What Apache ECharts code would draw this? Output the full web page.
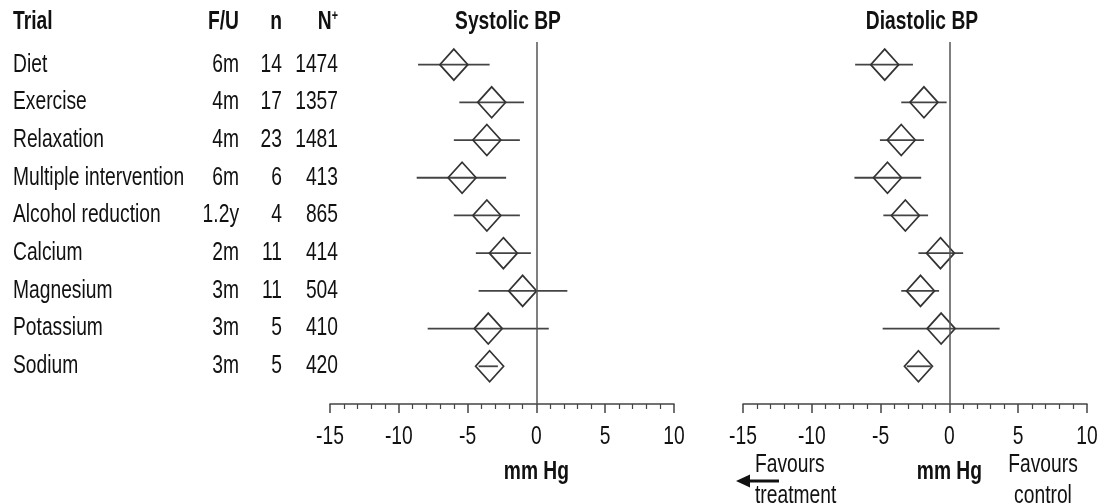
<!DOCTYPE html>
<html>
<head>
<meta charset="utf-8">
<script src="https://cdn.jsdelivr.net/npm/echarts@6/dist/echarts.min.js"></script>
<style>
  html, body { margin: 0; padding: 0; background: #fff; }
  #chart { width: 1104px; height: 504px; }
</style>
</head>
<body>
<div id="chart"></div>
<script>
// table columns
var trials = ['Diet', 'Exercise', 'Relaxation', 'Multiple intervention', 'Alcohol reduction',
  'Calcium', 'Magnesium', 'Potassium', 'Sodium'];
var followUp = ['6m', '4m', '4m', '6m', '1.2y', '2m', '3m', '3m', '3m'];
var nTrials = [14, 17, 23, 6, 4, 11, 11, 5, 5];
var nPatients = [1474, 1357, 1481, 413, 865, 414, 504, 410, 420];

// systolic BP change (mm Hg) with 95% CI
var sysEst = [-6.0, -3.25, -3.6, -5.4, -3.6, -2.4, -1.0, -3.5, -3.4];
var sysLo = [-8.6, -5.6, -6.0, -8.7, -6.0, -4.4, -4.2, -7.9, -4.2];
var sysHi = [-3.4, -0.9, -1.2, -2.2, -1.2, -0.4, 2.25, 0.9, -2.8];

// diastolic BP change (mm Hg) with 95% CI
var diaEst = [-4.7, -1.85, -3.5, -4.5, -3.2, -0.65, -2.1, -0.6, -2.25];
var diaLo = [-6.85, -3.5, -5.05, -6.9, -4.8, -2.25, -3.5, -4.85, -3.1];
var diaHi = [-2.65, -0.2, -1.85, -2.05, -1.55, 1.0, -0.75, 3.65, -1.35];

var xTicks = [-15, -10, -5, 0, 5, 10];

// no narrow font installed: Liberation Sans squeezed sideways looks like Arial Narrow
var FONT = '"Liberation Sans", Arial, sans-serif';
var NARROW = 0.77;
var TXT = '#111';

function rows(est, lo, hi) {
  return est.map(function (v, i) { return [v, i + 1, lo[i], hi[i]]; });
}

function renderForest(params, api) {
  var y = api.value(1);
  var c = api.coord([api.value(0), y]);
  var lo = api.coord([api.value(2), y]);
  var hi = api.coord([api.value(3), y]);
  var w = 14, h = 15.5;
  return {
    type: 'group',
    children: [
      {
        type: 'line',
        shape: { x1: lo[0], y1: c[1], x2: hi[0], y2: c[1] },
        style: { stroke: '#444', lineWidth: 1.8 }
      },
      {
        type: 'polygon',
        shape: { points: [[c[0], c[1] - h], [c[0] + w, c[1]], [c[0], c[1] + h], [c[0] - w, c[1]]] },
        style: { fill: 'none', stroke: '#333', lineWidth: 1.7 }
      }
    ]
  };
}

function xAxisCfg(idx) {
  return {
    gridIndex: idx,
    type: 'value',
    min: -15,
    max: 10,
    interval: 5,
    axisLine: { show: true, onZero: false, lineStyle: { color: '#444', width: 1.5 } },
    axisTick: { show: true, length: 9, lineStyle: { color: '#444', width: 1.5 } },
    minorTick: { show: true, splitNumber: 5, length: 5, lineStyle: { color: '#444', width: 1.2 } },
    splitLine: { show: false },
    // labels drawn below as narrow graphic text
    axisLabel: { show: false }
  };
}

function yAxisCfg(idx) {
  return { gridIndex: idx, type: 'value', min: 0.4, max: 10, inverse: true, show: false };
}

var zeroLine = {
  silent: true,
  symbol: 'none',
  label: { show: false },
  lineStyle: { color: '#555', width: 1.5, type: 'solid' },
  data: [{ xAxis: 0 }]
};

var chart = echarts.init(document.getElementById('chart'));
chart.setOption({
  animation: false,
  grid: [
    { left: 330, top: 42, width: 344, height: 362 },
    { left: 743, top: 42, width: 344, height: 362 }
  ],
  xAxis: [xAxisCfg(0), xAxisCfg(1)],
  yAxis: [yAxisCfg(0), yAxisCfg(1)],
  series: [
    {
      type: 'custom', xAxisIndex: 0, yAxisIndex: 0,
      renderItem: renderForest,
      encode: { x: [0, 2, 3], y: 1 },
      data: rows(sysEst, sysLo, sysHi),
      markLine: zeroLine
    },
    {
      type: 'custom', xAxisIndex: 1, yAxisIndex: 1,
      renderItem: renderForest,
      encode: { x: [0, 2, 3], y: 1 },
      data: rows(diaEst, diaLo, diaHi),
      markLine: zeroLine
    }
  ]
});

// table text, headers, tick labels and notes, placed with the chart's own scales
var g = [];
function txt(x, y, s, align, bold, extra) {
  var o = {
    type: 'text', x: x, y: y, scaleX: NARROW, silent: true,
    style: {
      text: s, fill: TXT, font: (bold ? 'bold ' : '') + '25px ' + FONT,
      textAlign: align || 'left', textVerticalAlign: 'middle'
    }
  };
  if (extra) Object.assign(o.style, extra);
  g.push(o);
}

var headY = 22;
txt(13, headY, 'Trial', 'left', true);
txt(239, headY, 'F/U', 'right', true);
txt(282, headY, 'n', 'right', true);
txt(338, headY, 'N{s|+}', 'right', true, {
  rich: { s: { fontSize: 14, fontWeight: 'bold', fontFamily: FONT, verticalAlign: 'top', padding: [0, 0, 10, 0] } }
});
txt(508, headY, 'Systolic BP', 'center', true);
txt(922, headY, 'Diastolic BP', 'center', true);

trials.forEach(function (name, i) {
  var y = chart.convertToPixel({ yAxisIndex: 0 }, i + 1);
  txt(13, y, name, 'left');
  txt(239, y, followUp[i], 'right');
  txt(282, y, String(nTrials[i]), 'right');
  txt(338, y, String(nPatients[i]), 'right');
});

[0, 1].forEach(function (ax) {
  xTicks.forEach(function (v) {
    txt(chart.convertToPixel({ xAxisIndex: ax }, v), 437, String(v), 'center');
  });
  txt(chart.convertToPixel({ xAxisIndex: ax }, 0), 472, 'mm Hg', 'center', true);
});

txt(755, 465, 'Favours', 'left');
txt(755, 496, 'treatment', 'left');
txt(1043, 465, 'Favours', 'center');
txt(1043, 496, 'control', 'center');

g.push({
  type: 'line', silent: true,
  shape: { x1: 779, y1: 481, x2: 748, y2: 481 },
  style: { stroke: '#111', lineWidth: 3 }
});
g.push({
  type: 'polygon', silent: true,
  shape: { points: [[736, 481], [750, 474.5], [750, 487.5]] },
  style: { fill: '#111' }
});

chart.setOption({ graphic: g });
</script>
</body>
</html>
